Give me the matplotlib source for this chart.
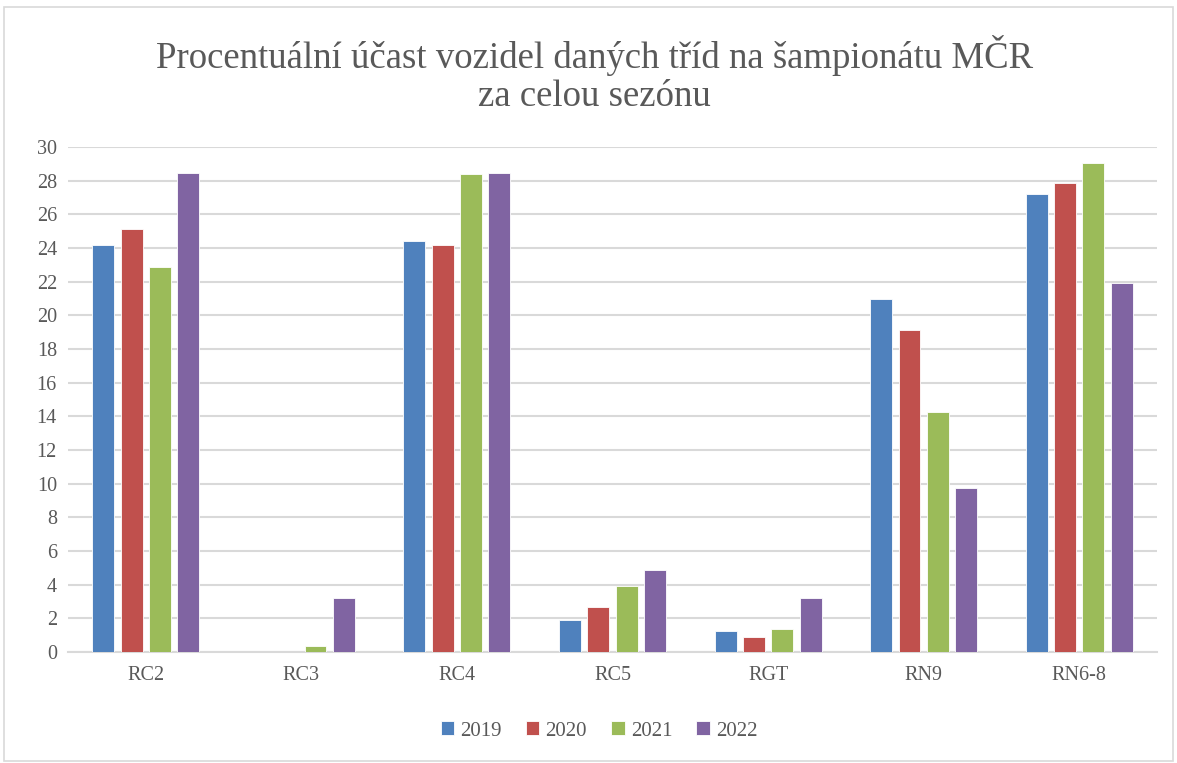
import numpy as np
import matplotlib
matplotlib.use('Agg')
import matplotlib.pyplot as plt
import matplotlib.patches

# Data
categories = ['RC2', 'RC3', 'RC4', 'RC5', 'RGT', 'RN9', 'RN6-8']
years = ['2019', '2020', '2021', '2022']
v2019 = [24.2, 0.0, 24.4, 1.9, 1.25, 20.95, 27.2]
v2020 = [25.1, 0.0, 24.2, 2.7, 0.87, 19.15, 27.85]
v2021 = [22.85, 0.38, 28.42, 3.95, 1.35, 14.27, 29.02]
v2022 = [28.43, 3.22, 28.43, 4.85, 3.22, 9.75, 21.93]

title_lines = ['Procentuální účast vozidel daných tříd na šampionátu MČR', 'za celou sezónu']

series = [v2019, v2020, v2021, v2022]
colors = ['#4F81BD', '#C0504D', '#9BBB59', '#8064A2']
text_color = '#595959'

plt.rcParams['font.family'] = ['Liberation Serif', 'DejaVu Serif']

fig = plt.figure(figsize=(11.77, 7.63), dpi=100)

# Light border round the chart area
fig.patches.append(matplotlib.patches.Rectangle(
    (0.003, 0.003), 0.994, 0.988, transform=fig.transFigure,
    fill=False, edgecolor='#d9d9d9', linewidth=1.2))

ax = fig.add_axes([68 / 1177, 1 - 652 / 763, (1157 - 68) / 1177, (652 - 147) / 763])

x = np.arange(len(categories))
width = 0.141
step = 0.182
for i, (vals, color, year) in enumerate(zip(series, colors, years)):
    ax.bar(x + (i - 1.5) * step, vals, width, color=color, label=year,
           edgecolor='white', linewidth=0.6, zorder=3)

ax.set_xlim(-0.5, len(categories) - 0.5)
ax.set_ylim(0, 30)
ax.set_yticks(np.arange(0, 31, 2))
ax.set_xticks(x)
ax.set_xticklabels(categories)
ax.yaxis.grid(True, color='#d9d9d9', linewidth=1.5, zorder=0)
ax.set_axisbelow(True)
for side in ['top', 'right', 'left']:
    ax.spines[side].set_visible(False)
ax.spines['bottom'].set_color('#d9d9d9')
ax.spines['bottom'].set_linewidth(1.5)
ax.tick_params(axis='both', length=0, colors=text_color, labelsize=14.5)
ax.tick_params(axis='x', pad=10)
ax.tick_params(axis='y', pad=8)

# Title in two lines, placed separately for spacing
for line, ypix in zip(title_lines, [55, 97]):
    fig.text(0.505, 1 - ypix / 763, line, ha='center', va='center',
             fontsize=26.5, color=text_color)

fig.legend(loc='center', bbox_to_anchor=(0.509, 1 - 731 / 763), ncol=4, frameon=False,
           fontsize=15, handlelength=0.65, handleheight=0.65, handletextpad=0.3,
           columnspacing=1.15, labelcolor=text_color)

fig.savefig('out.png', dpi=100)
